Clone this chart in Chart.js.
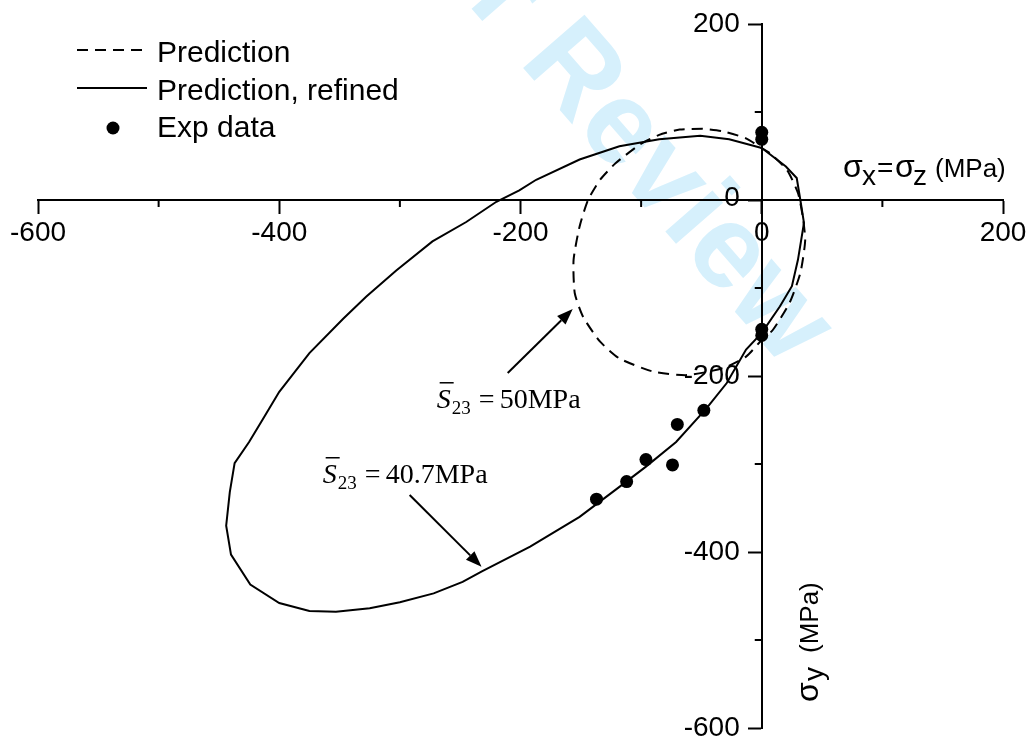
<!DOCTYPE html>
<html>
<head>
<meta charset="utf-8">
<script src="https://cdn.jsdelivr.net/npm/chart.js@4.4.1/dist/chart.umd.min.js"></script>
<style>
  html, body { margin: 0; padding: 0; background: #fff; }
  #wrap { width: 1030px; height: 739px; }
</style>
</head>
<body>
<div id="wrap"><canvas id="chart" width="1030" height="739"></canvas></div>
<script>
// Prediction (dashed curve), S23 = 50 MPa
const predX = [-49, -68, -85, -101, -121, -134, -144, -151, -156, -155, -148, -134, -118, -90, -62, -32, -13, 0, 9, 23, 32, 36, 34, 30, 21, 7, 0, -13, -32, -49];
const predY = [81, 80, 74, 63, 42, 23, 0, -30, -68, -106, -133, -161, -180, -195, -199, -191, -178, -159, -148, -117, -83, -46, -19, 8, 34, 53, 59, 70, 78, 81];

// Prediction, refined (solid curve), S23 = 40.7 MPa
const refX = [0, 20, 29, 32, 35, 30, 25, 15, 0, -13, -29, -46, -71, -96, -118, -151, -192, -232, -248, -272, -300, -325, -353, -375, -400, -424, -440, -444, -441, -437, -425, -414, -400, -375, -347, -328, -303, -273, -245, -220, -201, -187, -151, -118, -85, -51, -27, 0];
const refY = [59, 38, 25, 0, -26, -68, -98, -121, -151, -170, -208, -237, -275, -303, -326, -360, -394, -422, -434, -447, -457, -464, -468, -467, -458, -437, -403, -370, -332, -299, -275, -250, -218, -174, -135, -110, -80, -47, -25, -2, 11, 23, 46, 61, 69, 73, 69, 59];

// Exp data
const expX = [0, 0, 0, 0, -48, -70, -96, -74, -112, -137];
const expY = [77, 69, -147, -154, -239, -255, -295, -301, -320, -340];

// axis ticks
const majorTicks = [-600, -400, -200, 0, 200];
const minorTicks = [-500, -300, -100, 100];

const toPts = (xs, ys) => xs.map((x, i) => ({ x: x, y: ys[i] }));
const deg = Math.PI / 180;
const SANS = '"Liberation Sans", Arial, sans-serif';
const SERIF = '"Liberation Serif", "Times New Roman", serif';

function arrow(ctx, x1, y1, x2, y2) {
  const a = Math.atan2(y2 - y1, x2 - x1);
  const hl = 16, hw = 6;
  const bx = x2 - hl * Math.cos(a), by = y2 - hl * Math.sin(a);
  ctx.beginPath();
  ctx.moveTo(x1, y1);
  ctx.lineTo(bx, by);
  ctx.lineWidth = 2;
  ctx.strokeStyle = '#000';
  ctx.stroke();
  ctx.beginPath();
  ctx.moveTo(x2, y2);
  ctx.lineTo(bx + hw * Math.sin(a), by - hw * Math.cos(a));
  ctx.lineTo(bx - hw * Math.sin(a), by + hw * Math.cos(a));
  ctx.closePath();
  ctx.fillStyle = '#000';
  ctx.fill();
}

// S-bar_23 = value
function s23Label(ctx, x, y, value) {
  ctx.fillStyle = '#000';
  ctx.textAlign = 'left';
  ctx.textBaseline = 'alphabetic';
  ctx.font = 'italic 28px ' + SERIF;
  ctx.fillText('S', x, y);
  ctx.fillRect(x + 3, y - 26, 14, 1.5);
  ctx.font = '19px ' + SERIF;
  ctx.fillText('23', x + 15, y + 6);
  ctx.font = '28px ' + SERIF;
  ctx.fillText('=', x + 42, y);
  ctx.fillText(value, x + 63, y);
}

const decorations = {
  id: 'decorations',
  beforeDraw(chart) {
    const ctx = chart.ctx;
    // watermark
    ctx.save();
    ctx.fillStyle = '#d6f0fc';
    ctx.font = 'bold 118px ' + SANS;
    ctx.textBaseline = 'alphabetic';
    ctx.translate(518, 62);
    ctx.rotate(49 * deg);
    const pre = 'For Peer ';
    ctx.fillText(pre, -ctx.measureText(pre).width, 0);
    ctx.fillText('Review', 0, 0);
    ctx.restore();
  },
  afterDraw(chart) {
    const ctx = chart.ctx;
    const xs = chart.scales.x, ys = chart.scales.y;
    const x0 = xs.getPixelForValue(0), y0 = ys.getPixelForValue(0);
    ctx.save();

    // minor ticks
    ctx.strokeStyle = '#000';
    ctx.lineWidth = 2;
    ctx.beginPath();
    minorTicks.forEach(v => {
      const px = xs.getPixelForValue(v);
      ctx.moveTo(px, y0);
      ctx.lineTo(px, y0 + 7);
      const py = ys.getPixelForValue(v);
      ctx.moveTo(x0, py);
      ctx.lineTo(x0 - 7, py);
    });
    ctx.stroke();

    // y tick labels, left of the axis
    ctx.fillStyle = '#000';
    ctx.font = '28px ' + SANS;
    ctx.textAlign = 'right';
    ctx.textBaseline = 'middle';
    majorTicks.forEach(v => {
      ctx.fillText(String(v), x0 - 22, ys.getPixelForValue(v) - (v === 0 ? 2 : 0));
    });

    // annotations
    arrow(ctx, xs.getPixelForValue(-210.6), ys.getPixelForValue(-196.6),
               xs.getPixelForValue(-156.7), ys.getPixelForValue(-123.9));
    arrow(ctx, xs.getPixelForValue(-291.9), ys.getPixelForValue(-335.2),
               xs.getPixelForValue(-232.3), ys.getPixelForValue(-416.7));
    s23Label(ctx, xs.getPixelForValue(-269.5), ys.getPixelForValue(-236.4), '50MPa');
    s23Label(ctx, xs.getPixelForValue(-364), ys.getPixelForValue(-321.6), '40.7MPa');

    // axis titles
    ctx.fillStyle = '#000';
    ctx.textAlign = 'left';
    ctx.textBaseline = 'alphabetic';
    const piece = (t, size, x, y) => {
      ctx.font = size + 'px ' + SANS;
      ctx.fillText(t, x, y);
    };
    piece('\u03c3', 32, 843, 177);
    piece('x', 28, 862, 185);
    piece('=', 28, 877, 177);
    piece('\u03c3', 32, 895, 177);
    piece('z', 28, 913, 185);
    piece('(MPa)', 26, 935, 177);

    ctx.translate(818, 702);
    ctx.rotate(-90 * deg);
    piece('\u03c3', 32, 0, 0);
    piece('y', 28, 21, 5);
    piece('(MPa)', 26, 49, 0);
    ctx.restore();

    // legend
    const sets = chart.data.datasets;
    ctx.save();
    ctx.strokeStyle = '#000';
    ctx.lineWidth = 2;
    ctx.setLineDash(sets[0].borderDash);
    ctx.beginPath(); ctx.moveTo(77, 50); ctx.lineTo(147, 50); ctx.stroke();
    ctx.setLineDash([]);
    ctx.beginPath(); ctx.moveTo(77, 88); ctx.lineTo(147, 88); ctx.stroke();
    ctx.beginPath(); ctx.arc(113, 128, 6.5, 0, 2 * Math.PI); ctx.fillStyle = '#000'; ctx.fill();
    ctx.font = '30px ' + SANS;
    ctx.textAlign = 'left';
    ctx.textBaseline = 'alphabetic';
    ctx.fillText(sets[0].label, 157, 62);
    ctx.fillText(sets[1].label, 157, 100);
    ctx.fillText(sets[2].label, 157, 137);
    ctx.restore();
  }
};

const noPad = s => { s.paddingLeft = 0; s.paddingRight = 0; s.paddingTop = 0; s.paddingBottom = 0; };

new Chart(document.getElementById('chart'), {
  type: 'scatter',
  data: {
    datasets: [
      {
        label: 'Prediction',
        data: toPts(predX, predY),
        showLine: true,
        borderColor: '#000',
        borderWidth: 2,
        borderDash: [11, 7],
        pointRadius: 0,
        tension: 0.2,
        fill: false
      },
      {
        label: 'Prediction, refined',
        data: toPts(refX, refY),
        showLine: true,
        borderColor: '#000',
        borderWidth: 2,
        pointRadius: 0,
        tension: 0,
        fill: false
      },
      {
        label: 'Exp data',
        data: toPts(expX, expY),
        showLine: false,
        pointRadius: 6.5,
        pointBackgroundColor: '#000',
        pointBorderColor: '#000',
        pointBorderWidth: 0
      }
    ]
  },
  options: {
    responsive: false,
    animation: false,
    events: [],
    layout: { padding: { left: 38, right: 27, top: 24, bottom: 11 } },
    plugins: { legend: { display: false }, tooltip: { enabled: false } },
    scales: {
      x: {
        type: 'linear',
        position: { y: 0 },
        min: -600, max: 200,
        afterFit: noPad,
        afterBuildTicks: s => { s.ticks = majorTicks.map(v => ({ value: v })); },
        border: { display: true, color: '#000', width: 2 },
        grid: { drawOnChartArea: false, drawTicks: true, tickLength: 13, tickWidth: 2, tickColor: '#000' },
        ticks: { color: '#000', padding: 3, maxRotation: 0, font: { family: SANS, size: 28 } }
      },
      y: {
        type: 'linear',
        position: { x: 0 },
        min: -600, max: 200,
        afterFit: noPad,
        afterBuildTicks: s => { s.ticks = majorTicks.map(v => ({ value: v })); },
        border: { display: true, color: '#000', width: 2 },
        grid: { drawOnChartArea: false, drawTicks: true, tickLength: 13, tickWidth: 2, tickColor: '#000' },
        ticks: { display: false }
      }
    }
  },
  plugins: [decorations]
});
</script>
</body>
</html>
